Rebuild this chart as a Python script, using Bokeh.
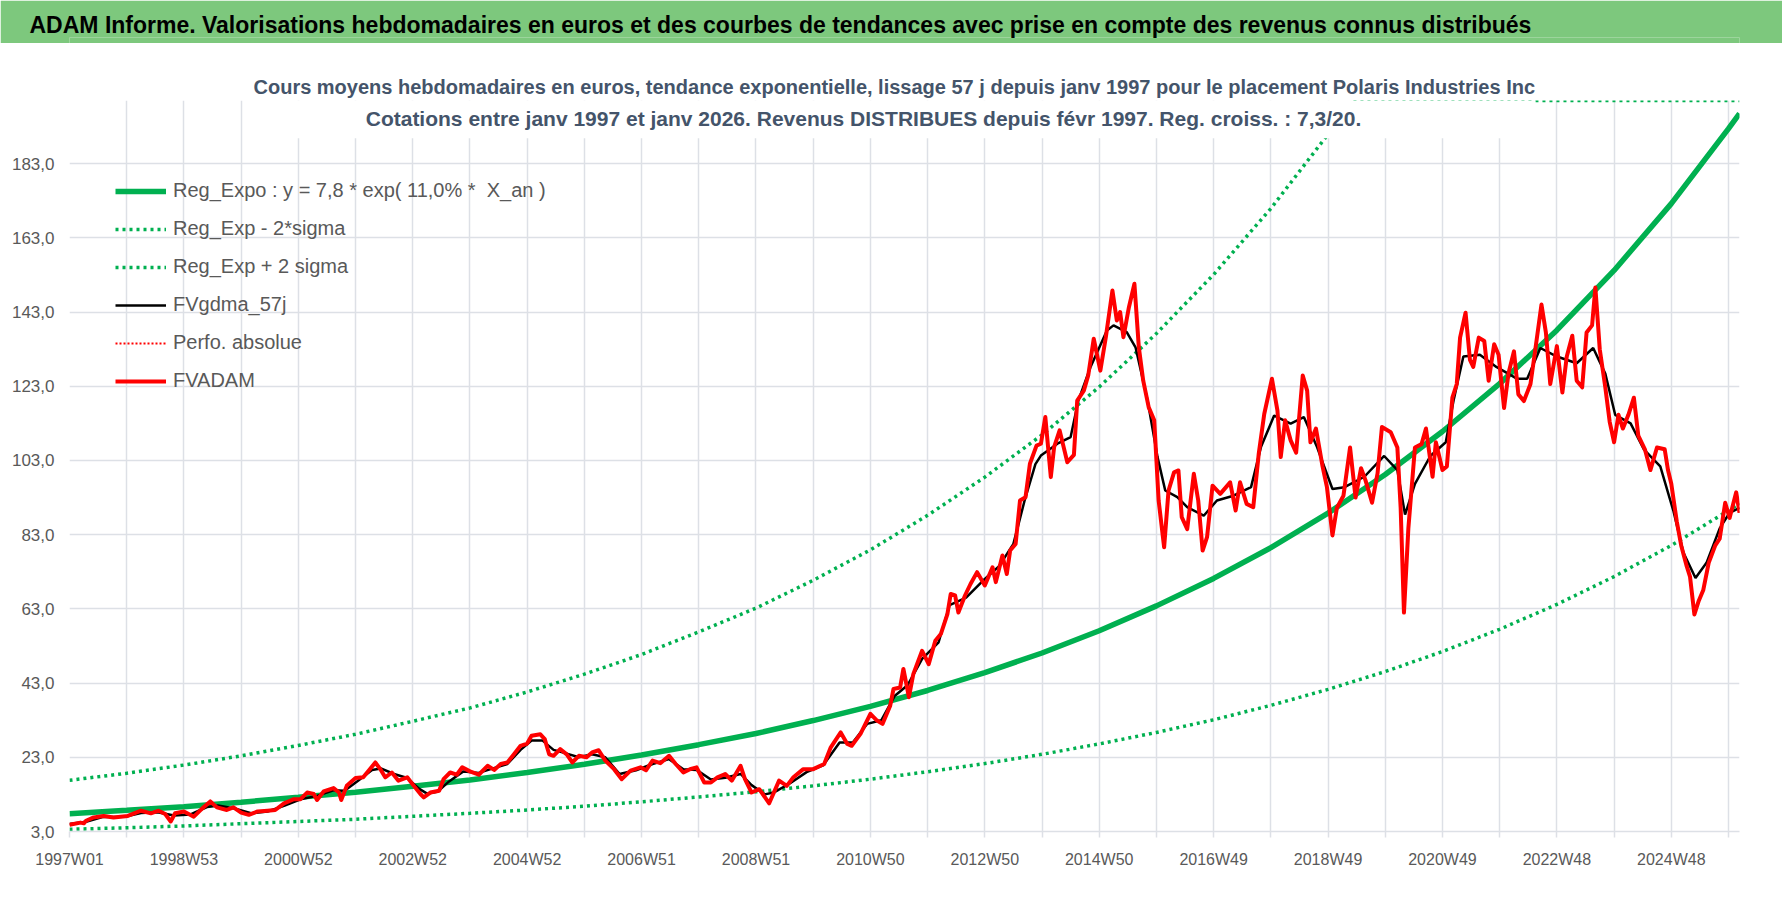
from bokeh.plotting import figure
from bokeh.models import Range1d, FixedTicker, Legend, LegendItem, BoxAnnotation, Label
from bokeh.layouts import column
from bokeh.embed import file_html
from bokeh.resources import INLINE

# week index 0 = 1997W01, one step per week
tick_weeks = [0, 104, 208, 312, 416, 520, 624, 728, 832, 936, 1040, 1144, 1248, 1352, 1456]
tick_labels = ["1997W01", "1998W53", "2000W52", "2002W52", "2004W52", "2006W51", "2008W51",
               "2010W50", "2012W50", "2014W50", "2016W49", "2018W49", "2020W49", "2022W48", "2024W48"]
y_ticks = [3, 23, 43, 63, 83, 103, 123, 143, 163, 183]
y_labels = ["3,0", "23,0", "43,0", "63,0", "83,0", "103,0", "123,0", "143,0", "163,0", "183,0"]

trend_weeks = [0, 52, 104, 156, 208, 260, 312, 364, 416, 468, 520, 572, 624, 676, 728, 780,
               832, 884, 936, 988, 1040, 1092, 1144, 1196, 1248, 1300, 1352, 1404, 1456, 1508, 1518]
reg_values = [7.8, 8.7, 9.7, 10.9, 12.2, 13.6, 15.2, 16.9, 18.9, 21.1, 23.6, 26.4, 29.4, 32.9, 36.7, 41.0,
              45.8, 51.1, 57.1, 63.8, 71.2, 79.5, 88.8, 99.2, 110.8, 123.7, 138.1, 154.2, 172.2, 192.4, 196.5]
low_values = [3.6, 4.0, 4.5, 5.1, 5.7, 6.3, 7.1, 7.9, 8.8, 9.8, 11.0, 12.3, 13.7, 15.3, 17.1, 19.1,
              21.3, 23.8, 26.6, 29.7, 33.1, 37.0, 41.3, 46.1, 51.5, 57.5, 64.2, 71.7, 80.1, 89.5, 91.4]
high_weeks = [0, 52, 104, 156, 208, 260, 312, 364, 416, 468, 520, 572, 624, 676, 728, 780,
              832, 884, 936, 988, 1040, 1092, 1144, 1165, 1196, 1248, 1300, 1352, 1404, 1456, 1508, 1518]
high_values = [16.8, 18.7, 20.9, 23.4, 26.2, 29.2, 32.7, 36.3, 40.6, 45.4, 50.7, 56.8, 63.2, 70.7, 78.9, 88.2,
               98.5, 109.9, 122.8, 137.2, 153.1, 170.9, 190.9, 200, 200, 200, 200, 200, 200, 200, 200, 200]

adam_weeks = [0, 10, 13, 15, 22, 31, 40, 53, 65, 74, 81, 87, 92, 96, 104, 113, 121, 128, 134, 143, 149, 156,
              163, 171, 180, 187, 195, 204, 210, 216, 222, 225, 231, 240, 245, 247, 252, 260, 267, 273, 278,
              283, 287, 293, 299, 307, 313, 319, 322, 328, 336, 340, 346, 352, 357, 364, 372, 380, 386, 392,
              398, 404, 410, 416, 420, 428, 432, 436, 440, 446, 452, 457, 463, 470, 475, 481, 487, 495, 502,
              510, 519, 524, 530, 537, 545, 551, 558, 564, 570, 577, 583, 589, 596, 602, 610, 614, 620, 627,
              636, 645, 652, 658, 667, 676, 686, 692, 701, 707, 711, 719, 728, 734, 739, 746, 749, 755, 758,
              763, 767, 775, 781, 787, 792, 798, 801, 805, 808, 814, 819, 825, 832, 839, 842, 848, 852, 855,
              860, 864, 869, 873, 879, 883, 887, 892, 895, 900, 907, 913, 916, 922, 926, 931, 937, 942, 948,
              952, 955, 958, 963, 968, 972, 976, 981, 986, 990, 995, 999, 1004, 1008, 1011, 1016, 1022, 1026,
              1030, 1034, 1039, 1046, 1055, 1060, 1064, 1070, 1076, 1081, 1086, 1093, 1098, 1101, 1105, 1110,
              1115, 1121, 1125, 1128, 1133, 1139, 1143, 1148, 1152, 1158, 1164, 1169, 1174, 1178, 1184, 1189,
              1193, 1201, 1207, 1210, 1213, 1217, 1223, 1229, 1233, 1239, 1242, 1248, 1252, 1257, 1261, 1264,
              1269, 1273, 1276, 1281, 1286, 1290, 1295, 1299, 1304, 1308, 1313, 1317, 1322, 1328, 1332, 1338,
              1342, 1346, 1352, 1357, 1361, 1366, 1370, 1375, 1379, 1384, 1387, 1391, 1396, 1400, 1404, 1408,
              1412, 1417, 1422, 1426, 1432, 1437, 1443, 1450, 1453, 1456, 1461, 1465, 1470, 1473, 1477, 1481,
              1485, 1490, 1496, 1500, 1505, 1509, 1515, 1518]
adam_values = [4.8, 5.4, 5.2, 5.9, 6.8, 7.2, 6.8, 7.2, 8.6, 7.9, 8.6, 7.7, 5.7, 7.9, 8.4, 7.0, 9.3, 11.1, 9.5,
               8.8, 9.5, 8.1, 7.5, 8.4, 8.6, 8.8, 10.6, 11.7, 11.7, 13.5, 13.1, 11.5, 13.8, 14.7, 13.5, 11.5,
               15.3, 17.4, 17.6, 19.8, 21.6, 19.6, 17.6, 18.9, 16.7, 17.6, 15.3, 13.1, 12.2, 13.5, 14.0, 17.1,
               18.9, 18.3, 20.3, 19.2, 18.3, 20.7, 19.6, 21.2, 21.6, 23.8, 26.1, 26.7, 28.8, 29.2, 27.9, 23.8,
               23.4, 25.2, 23.8, 21.6, 23.4, 23.0, 24.3, 24.9, 22.1, 19.8, 17.1, 19.4, 20.3, 19.5, 22.1, 21.4,
               23.4, 21.2, 18.9, 19.8, 20.3, 16.2, 16.2, 17.6, 18.5, 16.7, 20.7, 17.1, 13.5, 14.4, 10.6, 16.7,
               15.3, 17.6, 19.8, 19.8, 21.2, 25.7, 29.7, 26.6, 26.1, 29.3, 34.7, 32.9, 32.0, 36.9, 41.4, 41.8,
               46.8, 39.2, 45.4, 51.7, 48.1, 54.4, 56.2, 61.6, 67.0, 66.6, 62.0, 66.6, 69.7, 72.9, 69.3, 74.2,
               70.2, 77.4, 72.4, 78.7, 80.5, 92.2, 93.1, 102.1, 107.0, 107.5, 114.7, 98.5, 106.6, 111.1, 102.5,
               104.5, 119.1, 121.8, 125.9, 135.8, 127.2, 136.2, 148.8, 140.7, 143.0, 136.2, 144.3, 150.6, 133.5,
               124.5, 117.3, 113.8, 92.2, 79.6, 94.9, 99.8, 100.3, 87.7, 84.5, 99.4, 92.2, 78.7, 82.3, 96.2,
               94.0, 97.1, 89.5, 97.1, 91.3, 90.4, 104.8, 115.5, 125.0, 116.4, 103.9, 113.8, 108.4, 105.1,
               125.9, 121.8, 107.9, 111.6, 101.4, 95.8, 82.8, 90.2, 93.5, 106.5, 93.0, 100.9, 97.7, 91.6, 99.5,
               112.0, 110.6, 106.5, 90.2, 62.0, 84.7, 106.5, 107.4, 111.6, 98.6, 107.9, 100.4, 101.4, 119.9,
               123.6, 136.1, 142.8, 130.1, 128.2, 136.1, 135.2, 124.5, 134.3, 131.5, 117.1, 126.4, 132.4, 120.8,
               119.0, 123.6, 132.0, 145.0, 137.5, 123.6, 133.8, 121.3, 131.0, 136.6, 124.5, 122.7, 137.5, 139.4,
               149.6, 132.9, 122.7, 113.4, 107.9, 115.3, 111.6, 115.3, 119.9, 109.7, 106.0, 100.4, 106.5, 106.0,
               100.4, 96.7, 86.5, 80.1, 74.5, 71.7, 61.5, 65.2, 68.0, 75.4, 80.1, 81.9, 91.6, 87.5, 94.4, 88.9]

gdma_weeks = [0, 15, 30, 50, 65, 80, 95, 110, 125, 135, 150, 165, 180, 195, 210, 225, 240, 250, 262, 275,
              283, 295, 307, 318, 325, 335, 345, 358, 372, 385, 398, 410, 420, 430, 440, 452, 463, 475, 487,
              500, 515, 530, 545, 558, 570, 583, 596, 610, 620, 632, 640, 655, 670, 685, 700, 712, 725, 738,
              750, 762, 775, 790, 800, 815, 830, 845, 858, 868, 878, 883, 898, 910, 917, 928, 943, 949, 961,
              969, 980, 989, 996, 1007, 1016, 1031, 1043, 1058, 1074, 1083, 1095, 1110, 1122, 1134, 1148,
              1159, 1177, 1195, 1207, 1214, 1223, 1237, 1251, 1258, 1267, 1282, 1297, 1316, 1325, 1337, 1352,
              1370, 1385, 1396, 1405, 1419, 1431, 1446, 1458, 1467, 1478, 1488, 1500, 1509, 1518]
gdma_values = [5.0, 5.6, 6.9, 7.0, 8.0, 8.2, 7.3, 7.6, 9.6, 10.0, 9.2, 7.9, 8.4, 9.9, 11.7, 12.6, 14.1, 14.0,
               16.6, 19.6, 20.0, 18.5, 17.4, 14.5, 13.2, 13.8, 16.5, 19.2, 18.8, 20.0, 21.2, 25.0, 27.5, 27.5,
               25.0, 24.0, 23.0, 23.8, 23.0, 18.5, 19.5, 21.2, 22.5, 19.8, 19.6, 17.0, 17.5, 18.5, 15.5, 13.0,
               13.5, 16.0, 19.0, 20.8, 27.0, 27.0, 32.0, 33.0, 39.5, 42.5, 49.5, 54.0, 64.0, 66.0, 70.5, 74.5,
               80.5, 92.0, 102.0, 104.3, 107.5, 109.3, 119.1, 128.1, 138.0, 139.4, 137.6, 133.5, 119.1, 103.9,
               94.9, 93.1, 90.4, 88.1, 92.2, 93.5, 95.8, 106.6, 115.1, 112.9, 114.7, 106.6, 95.3, 95.8, 98.6,
               104.2, 100.4, 88.4, 96.7, 104.2, 107.9, 119.0, 131.0, 131.5, 128.2, 125.0, 125.0, 133.3, 131.0,
               129.2, 133.3, 126.4, 115.3, 113.0, 106.0, 101.4, 89.3, 78.2, 71.3, 75.4, 84.7, 88.9, 90.2]

FONT = "Liberation Sans"
GREEN = "#00B050"
GRID = "#DDE0E6"
TXT = "#595959"
SUB = "#44546A"

# green title band: a plot with no data, its border fill is the band
tb = figure(width=1782, height=43, toolbar_location=None, output_backend="svg",
            x_axis_location=None, y_axis_location=None,
            min_border_left=69, min_border_right=43, min_border_top=37, min_border_bottom=0)
tb.grid.visible = False
tb.outline_line_color = None
tb.background_fill_color = "#7DC87D"
tb.border_fill_color = "#7DC87D"
tb.title.text = ("ADAM Informe. Valorisations hebdomadaires en euros et des courbes "
                 "de tendances avec prise en compte des revenus connus distribués")
tb.title.align = "left"
tb.title.offset = -40
tb.title.standoff = 0
tb.title.text_font = FONT
tb.title.text_font_style = "bold"
tb.title.text_font_size = "23px"
tb.title.text_color = "black"

p = figure(width=1782, height=861, x_range=Range1d(0, 1518), y_range=Range1d(3, 200),
           toolbar_location=None, output_backend="svg",
           min_border_left=69, min_border_right=43, min_border_top=57, min_border_bottom=73)
p.outline_line_color = None
p.background_fill_color = "white"
p.title.text = ("Cours moyens hebdomadaires en euros, tendance exponentielle, "
                "lissage 57 j depuis janv 1997 pour le placement Polaris Industries Inc")
p.title.align = "left"
p.title.offset = 184
p.title.standoff = 6
p.title.text_font = FONT
p.title.text_font_style = "bold"
p.title.text_font_size = "20px"
p.title.text_color = SUB

grid_weeks = list(range(0, 1519, 52))
p.xaxis.ticker = FixedTicker(ticks=grid_weeks)
overrides = {w: "" for w in grid_weeks}
overrides.update(dict(zip(tick_weeks, tick_labels)))
p.xaxis.major_label_overrides = overrides
p.xaxis.axis_line_color = GRID
p.xaxis.axis_line_width = 1.5
p.xaxis.major_tick_line_color = GRID
p.xaxis.major_tick_line_width = 1.5
p.xaxis.major_tick_out = 6
p.xaxis.major_tick_in = 0
p.xaxis.minor_tick_line_color = None
p.xaxis.major_label_standoff = 13
p.xaxis.major_label_text_font = FONT
p.xaxis.major_label_text_font_size = "16px"
p.xaxis.major_label_text_color = TXT

p.yaxis.ticker = FixedTicker(ticks=y_ticks)
p.yaxis.major_label_overrides = dict(zip(y_ticks, y_labels))
p.yaxis.axis_line_color = None
p.yaxis.major_tick_line_color = None
p.yaxis.minor_tick_line_color = None
p.yaxis.major_label_standoff = 9
p.yaxis.major_label_text_font = FONT
p.yaxis.major_label_text_font_size = "17px"
p.yaxis.major_label_text_color = TXT

p.xgrid.ticker = FixedTicker(ticks=grid_weeks)
p.ygrid.ticker = FixedTicker(ticks=y_ticks)
p.grid.grid_line_color = GRID
p.grid.grid_line_width = 1.5

r_reg = p.line(trend_weeks, reg_values, line_color=GREEN, line_width=5.5)
r_low = p.line(trend_weeks, low_values, line_color=GREEN, line_width=3.5, line_dash="3 4")
r_high = p.line(high_weeks, high_values, line_color=GREEN, line_width=3.5, line_dash="3 4")
r_gdma = p.line(gdma_weeks, gdma_values, line_color="black", line_width=2.5)
r_perf = p.line(adam_weeks, adam_values, line_color="red", line_width=2, line_dash="2 2")
r_adam = p.line(adam_weeks, adam_values, line_color="#FF0000", line_width=4, line_join="round")

legend = Legend(items=[
    LegendItem(label="Reg_Expo : y = 7,8 * exp( 11,0% *  X_an )", renderers=[r_reg]),
    LegendItem(label="Reg_Exp - 2*sigma", renderers=[r_low]),
    LegendItem(label="Reg_Exp + 2 sigma", renderers=[r_high]),
    LegendItem(label="FVgdma_57j", renderers=[r_gdma]),
    LegendItem(label="Perfo. absolue", renderers=[r_perf]),
    LegendItem(label="FVADAM", renderers=[r_adam]),
], location=(46, 439))
legend.border_line_color = None
legend.background_fill_alpha = 0
legend.padding = 0
legend.margin = 0
legend.spacing = 15
legend.glyph_width = 51
legend.glyph_height = 22
legend.label_height = 22
legend.label_standoff = 7
legend.label_text_font = FONT
legend.label_text_font_size = "20px"
legend.label_text_color = TXT
p.add_layout(legend)

# white box behind the subtitle, it hides part of the plot
p.add_layout(BoxAnnotation(left=164.6, right=1332.4, bottom=189.8, fill_color="white",
                           fill_alpha=1.0, line_alpha=0))
p.add_layout(Label(x=863, y=75, x_units="canvas", y_units="canvas",
                   text="Cotations entre janv 1997 et janv 2026. Revenus DISTRIBUES "
                   "depuis févr 1997. Reg. croiss. : 7,3/20.",
                   text_font=FONT, text_font_style="bold", text_font_size="21px",
                   text_color=SUB, text_align="center", text_baseline="middle"))

open("out.html", "w").write(file_html(column(tb, p), INLINE))
